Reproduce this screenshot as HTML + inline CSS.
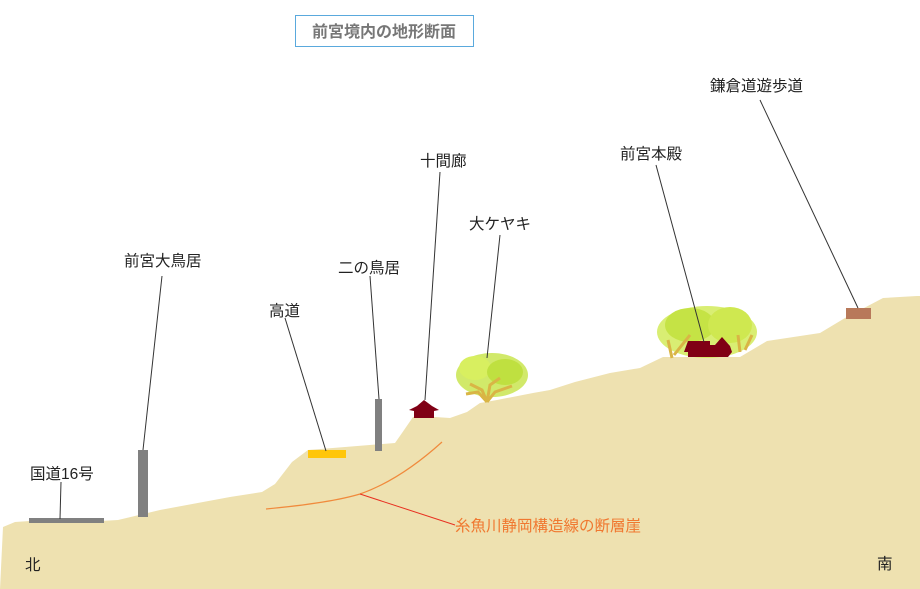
<!DOCTYPE html>
<html><head><meta charset="utf-8"><style>
html,body{margin:0;padding:0;background:#fff;width:920px;height:589px;overflow:hidden}
svg text{font-family:"Liberation Sans","Noto Sans CJK JP",sans-serif;font-size:15.5px;fill:#222}
</style></head><body>
<svg width="920" height="589" viewBox="0 0 920 589" xmlns="http://www.w3.org/2000/svg">
<rect x="295.5" y="15.5" width="178" height="31" fill="#fff" stroke="#5aa9dd" stroke-width="1"/>
<text x="384" y="37" text-anchor="middle" style="font-weight:bold;fill:#777;font-size:16px">前宮境内の地形断面</text>
<polygon fill="#eee1b0" points="0,589 3,527 15,522 30,521 100,521 118,520 160,510 230,497 262,492 275,484 292,462 308,450 395,443 402,433 413,417 435,417 450,418 467,412 480,403 497,400 533,393 550,390 575,382 610,373 640,368 663,357 740,357 767,341 820,333 845,318 883,298 917,296 920,296 920,589"/>
<path d="M266,509 Q330,503 360,494 Q400,480 442,442" fill="none" stroke="#f08a3c" stroke-width="1.2"/>
<line x1="360" y1="494" x2="455" y2="525" stroke="#e83020" stroke-width="1"/>
<text x="455" y="531" style="fill:#f07830">糸魚川静岡構造線の断層崖</text>
<rect x="29" y="518" width="75" height="5" fill="#808080"/>
<rect x="138" y="450" width="10" height="67" fill="#808080"/>
<rect x="308" y="450" width="38" height="8" fill="#ffc60a"/>
<rect x="375" y="399" width="7" height="52" fill="#808080"/>
<polygon fill="#800015" points="424,400 432,406 439,410 434,411 434,418 414,418 414,411 409,410 417,406"/>
<rect x="846" y="308" width="25" height="11" fill="#b8795a"/>
<g>
<ellipse cx="492" cy="375" rx="36" ry="22" fill="#c9e550" opacity="0.85"/>
<ellipse cx="475" cy="368" rx="16" ry="12" fill="#d8ef60"/>
<ellipse cx="505" cy="372" rx="18" ry="13" fill="#bfe040"/>
<path d="M487,402 L482,390 L470,384 M487,402 L490,385 L500,378 M487,402 L495,392 L512,386 M487,402 L478,392 L466,394" stroke="#d9b545" stroke-width="3" fill="none"/>
</g>
<g>
<ellipse cx="707" cy="332" rx="50" ry="26" fill="#d2eb5a" opacity="0.85"/>
<ellipse cx="690" cy="325" rx="25" ry="17" fill="#c5e345"/>
<ellipse cx="730" cy="325" rx="22" ry="18" fill="#cfe850"/>
<path d="M672,358 L668,340 M674,355 L690,335 M740,352 L738,335 M745,350 L752,335" stroke="#d9b545" stroke-width="3"/>
<polygon fill="#800015" points="688,341 710,341 710,345 715,345 722,337 730,346 732,352 728,357 688,357 688,352 684,352"/>
</g>
<g stroke="#333" stroke-width="1">
<line x1="61" y1="482" x2="60" y2="519"/>
<line x1="162" y1="276" x2="143" y2="450"/>
<line x1="285" y1="318" x2="326" y2="451"/>
<line x1="370" y1="276" x2="379" y2="399"/>
<line x1="440" y1="172" x2="425" y2="400"/>
<line x1="500" y1="235" x2="487" y2="358"/>
<line x1="656" y1="165" x2="704" y2="342"/>
<line x1="760" y1="100" x2="858" y2="308"/>
</g>
<text x="30" y="479">国道16号</text>
<text x="124" y="266">前宮大鳥居</text>
<text x="269" y="316">高道</text>
<text x="338" y="273">二の鳥居</text>
<text x="420" y="166">十間廊</text>
<text x="469" y="229">大ケヤキ</text>
<text x="620" y="159">前宮本殿</text>
<text x="710" y="91">鎌倉道遊歩道</text>
<text x="25" y="570">北</text>
<text x="877" y="569">南</text>
</svg>
</body></html>
